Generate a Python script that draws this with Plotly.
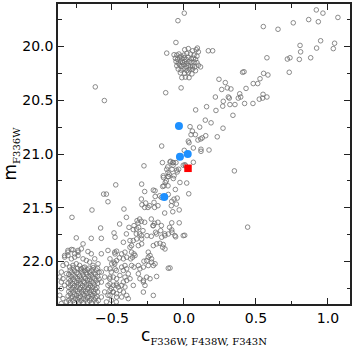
import plotly.graph_objects as go

# ---- data: colour c_{F336W,F438W,F343N} vs magnitude m_F336W ----
field_c = [-0.616, -0.553, -0.127, -0.155, -0.278, -0.15, 0.002, -0.042, -0.056, -0.12, -0.069, 0.169, 0.199, 0.35, 0.442, -0.097, 0.093, 0.035]
field_m = [20.376, 20.503, 20.43, 20.926, 21.11, 21.08, 19.69, 19.76, 19.963, 20.062, 20.077, 20.04, 20.04, 21.157, 21.68, 22.06, 20.015, 20.895]

clump = [(0.005, 20.03), (0.03, 20.02), (0.06, 20.04), (0.085, 20.03), (0.10, 20.05),
         (-0.05, 20.08), (-0.035, 20.07), (-0.02, 20.09), (0.0, 20.08), (0.02, 20.065), (0.045, 20.07), (0.07, 20.08), (0.09, 20.09),
         (-0.06, 20.11), (-0.045, 20.12), (-0.03, 20.10), (-0.015, 20.115), (0.0, 20.105), (0.015, 20.12), (0.03, 20.10), (0.05, 20.115), (0.065, 20.11), (0.08, 20.12),
         (-0.055, 20.14), (-0.04, 20.155), (-0.025, 20.14), (-0.01, 20.15), (0.005, 20.14), (0.02, 20.155), (0.035, 20.14), (0.05, 20.15), (0.07, 20.145), (0.09, 20.15),
         (-0.05, 20.18), (-0.03, 20.17), (-0.015, 20.185), (0.0, 20.17), (0.015, 20.19), (0.03, 20.175), (0.045, 20.19), (0.06, 20.18), (0.075, 20.19), (0.1, 20.175), (0.115, 20.19),
         (-0.04, 20.21), (-0.02, 20.22), (0.0, 20.205), (0.02, 20.225), (0.04, 20.215), (0.06, 20.21), (0.08, 20.225),
         (-0.025, 20.245), (0.005, 20.25), (0.03, 20.24), (0.055, 20.255),
         (-0.015, 20.29), (0.01, 20.285), (0.035, 20.29), (-0.02, 20.385)]

giants = [(0.551, 19.815), (0.653, 19.84), (0.759, 19.78), (0.866, 19.75), (0.919, 19.66), (0.965, 19.69), (0.933, 19.77), (1.069, 19.73),
          (0.949, 19.947), (1.046, 19.97), (1.037, 20.02), (0.921, 20.015), (0.88, 20.105), (0.806, 19.99), (0.81, 20.05), (0.801, 20.12),
          (0.736, 20.105), (0.718, 20.117), (0.731, 20.24), (0.576, 20.105), (0.553, 20.25), (0.583, 20.265), (0.528, 20.30), (0.481, 20.345),
          (0.512, 20.345), (0.407, 20.24), (0.417, 20.235), (0.431, 20.39), (0.243, 20.305), (0.287, 20.336), (0.262, 20.40), (0.301, 20.385),
          (0.326, 20.395), (0.218, 20.47), (0.308, 20.47), (0.315, 20.48), (0.387, 20.44), (0.394, 20.47), (0.377, 20.48), (0.549, 20.445),
          (0.546, 20.48), (0.576, 20.47), (0.523, 20.49), (0.479, 20.53), (0.421, 20.53), (0.354, 20.54), (0.319, 20.54), (0.273, 20.51),
          (0.269, 20.555), (0.157, 20.56), (0.081, 20.59), (0.222, 20.595), (0.34, 20.64), (0.148, 20.685), (0.188, 20.71), (0.271, 20.76),
          (0.042, 20.746), (0.109, 20.75), (0.058, 20.787), (0.049, 20.82), (0.079, 20.82), (0.151, 20.83), (0.127, 20.85), (0.116, 20.86),
          (0.097, 20.87), (0.231, 20.84), (0.03, 20.88), (0.002, 20.966), (0.065, 20.944), (0.118, 20.956), (0.118, 20.975), (0.174, 20.963),
          (0.065, 21.077), (0.007, 21.10), (-0.078, 21.08), (-0.051, 21.15), (-0.047, 21.167)]

subgiants = [(-0.113, 21.12), (-0.12, 21.142), (-0.102, 21.188), (-0.107, 21.21), (-0.143, 21.219), (-0.123, 21.25), (-0.148, 21.302),
             (-0.213, 21.336), (-0.201, 21.342), (-0.294, 21.28), (-0.273, 21.349), (-0.13, 21.401), (-0.2, 21.395), (-0.109, 21.376),
             (-0.093, 21.068), (-0.074, 21.08), (-0.056, 21.08), (-0.083, 21.142), (-0.037, 21.142), (-0.005, 21.105), (0.011, 21.111),
             (-0.074, 21.228), (-0.028, 21.265), (0.019, 21.27), (-0.06, 21.33), (0.033, 21.37), (-0.047, 21.41), (-0.069, 21.42),
             (-0.085, 21.44), (-0.033, 21.52), (-0.078, 21.537), (-0.033, 21.64), (-0.085, 21.64), (-0.085, 21.706), (-0.058, 21.77),
             (0.005, 21.756), (-0.111, 21.172), (-0.144, 21.203), (-0.111, 21.209), (-0.069, 21.203), (-0.13, 21.265), (-0.139, 21.296),
             (-0.111, 21.296), (-0.474, 21.287), (-0.558, 21.373), (-0.539, 21.373), (-0.528, 21.444), (-0.639, 21.521), (-0.778, 21.589),
             (-0.169, 21.389), (-0.157, 21.404), (-0.296, 21.419), (-0.292, 21.472), (-0.266, 21.456), (-0.25, 21.497), (-0.273, 21.497),
             (-0.238, 21.481), (-0.208, 21.45), (-0.204, 21.497), (-0.181, 21.481), (-0.053, 21.466), (-0.088, 21.481), (-0.134, 21.549),
             (-0.417, 21.512), (-0.4, 21.589), (-0.326, 21.62), (-0.308, 21.605), (-0.319, 21.642), (-0.296, 21.626), (-0.273, 21.635),
             (-0.447, 21.651), (-0.579, 21.688), (-0.486, 21.734), (-0.347, 21.666), (-0.352, 21.703), (-0.329, 21.697), (-0.315, 21.682),
             (-0.285, 21.713), (-0.308, 21.743), (-0.296, 21.759), (-0.331, 21.743), (-0.382, 21.682), (-0.4, 21.743), (-0.227, 21.605),
             (-0.204, 21.645), (-0.215, 21.666), (-0.181, 21.635), (-0.157, 21.666), (-0.162, 21.713), (-0.197, 21.728), (-0.134, 21.743),
             (-0.1, 21.682), (-0.083, 21.728), (-0.257, 21.759), (-0.227, 21.765), (-0.644, 21.784), (-0.574, 21.784), (-0.748, 21.78),
             (-0.097, 21.074), (-0.076, 21.105), (-0.479, 21.774), (-0.294, 21.79), (-0.329, 21.79), (-0.352, 21.805), (-0.375, 21.805),
             (-0.155, 21.774), (-0.19, 21.744), (-0.132, 21.759), (-0.109, 21.744), (-0.063, 21.759), (-0.005, 21.759), (-0.213, 21.666)]

lower_sgb = [(-0.421, 21.821), (-0.375, 21.867), (-0.364, 21.852), (-0.317, 21.852), (-0.294, 21.836), (-0.213, 21.852), (-0.19, 21.836),
             (-0.167, 21.83), (-0.144, 21.842), (-0.132, 21.883), (-0.148, 21.867), (-0.468, 21.904), (-0.479, 21.929), (-0.433, 21.929),
             (-0.41, 21.913), (-0.398, 21.96), (-0.421, 21.975), (-0.364, 21.913), (-0.347, 21.929), (-0.34, 21.944), (-0.357, 21.96),
             (-0.37, 21.975), (-0.248, 21.913), (-0.236, 21.944), (-0.248, 21.96), (-0.225, 21.975), (-0.259, 21.991), (-0.278, 21.997),
             (-0.514, 21.975), (-0.502, 22.021), (-0.486, 22.006), (-0.468, 21.991), (-0.449, 21.966), (-0.514, 22.068), (-0.479, 22.068),
             (-0.433, 22.052), (-0.41, 22.037), (-0.398, 22.068), (-0.421, 22.083), (-0.364, 22.037), (-0.347, 22.052), (-0.317, 22.037),
             (-0.306, 22.068), (-0.282, 22.052), (-0.225, 22.006), (-0.213, 22.037), (-0.201, 22.021), (-0.248, 22.037), (-0.109, 22.062),
             (-0.514, 22.145), (-0.491, 22.145), (-0.468, 22.16), (-0.445, 22.129), (-0.41, 22.145), (-0.387, 22.114), (-0.375, 22.16),
             (-0.398, 22.176), (-0.317, 22.114), (-0.306, 22.16), (-0.282, 22.176), (-0.259, 22.145), (-0.236, 22.16), (-0.19, 22.139),
             (-0.514, 22.207), (-0.491, 22.222), (-0.468, 22.207), (-0.456, 22.237), (-0.433, 22.222), (-0.421, 22.191), (-0.352, 22.222),
             (-0.282, 22.191), (-0.271, 22.222), (-0.514, 22.268), (-0.491, 22.284), (-0.468, 22.299), (-0.445, 22.268), (-0.421, 22.284),
             (-0.398, 22.315), (-0.387, 22.345), (-0.433, 22.33), (-0.468, 22.33), (-0.41, 22.237), (-0.514, 22.315), (-0.282, 22.284),
             (-0.213, 22.315), (-0.701, 21.836), (-0.782, 21.888), (-0.806, 21.913), (-0.829, 21.944), (-0.759, 21.928), (-0.736, 21.913),
             (-0.574, 21.928)]

turnoff_edge = [(-0.806, 21.897), (-0.771, 21.891), (-0.736, 21.897), (-0.713, 21.882), (-0.667, 21.907), (-0.644, 21.928), (-0.528, 21.897),
                (-0.481, 21.913), (-0.829, 21.959), (-0.806, 21.944), (-0.782, 21.975), (-0.759, 21.959), (-0.736, 21.944), (-0.701, 21.975),
                (-0.678, 21.99), (-0.655, 22.005), (-0.62, 21.975), (-0.597, 22.021), (-0.632, 22.036), (-0.84, 22.036), (-0.817, 22.021),
                (-0.794, 22.052), (-0.771, 22.036), (-0.748, 22.021), (-0.725, 22.036), (-0.713, 22.067), (-0.69, 22.052), (-0.481, 22.021),
                (-0.505, 22.098), (-0.47, 22.083), (-0.852, 22.098), (-0.863, 22.144), (-0.84, 22.16), (-0.852, 22.191), (-0.817, 22.113),
                (-0.829, 22.221), (-0.852, 22.252), (-0.863, 22.314), (-0.84, 22.345), (-0.817, 22.376), (-0.852, 22.391), (-0.574, 22.098),
                (-0.539, 22.067), (-0.551, 22.144), (-0.516, 22.16), (-0.574, 22.191), (-0.528, 22.221), (-0.505, 22.252), (-0.493, 22.283),
                (-0.47, 22.221), (-0.551, 22.283), (-0.528, 22.314), (-0.574, 22.33), (-0.505, 22.36), (-0.539, 22.376), (-0.47, 22.376)]

turnoff_core = [(-0.77, 22.06), (-0.74, 22.065), (-0.70, 22.058), (-0.66, 22.062), (-0.63, 22.057), (-0.60, 22.064),
                (-0.79, 22.08), (-0.76, 22.085), (-0.72, 22.078), (-0.69, 22.083), (-0.67, 22.077), (-0.64, 22.084), (-0.61, 22.079),
                (-0.78, 22.10), (-0.745, 22.104), (-0.71, 22.097), (-0.68, 22.103), (-0.655, 22.098), (-0.625, 22.105), (-0.59, 22.099),
                (-0.80, 22.12), (-0.77, 22.124), (-0.735, 22.117), (-0.70, 22.123), (-0.675, 22.118), (-0.645, 22.125), (-0.615, 22.119),
                (-0.785, 22.14), (-0.755, 22.143), (-0.725, 22.137), (-0.695, 22.144), (-0.66, 22.138), (-0.635, 22.145), (-0.60, 22.139),
                (-0.80, 22.16), (-0.77, 22.164), (-0.74, 22.157), (-0.715, 22.163), (-0.685, 22.158), (-0.655, 22.165), (-0.62, 22.159), (-0.59, 22.163),
                (-0.79, 22.18), (-0.76, 22.184), (-0.73, 22.177), (-0.70, 22.183), (-0.67, 22.178), (-0.645, 22.185), (-0.61, 22.179),
                (-0.805, 22.20), (-0.775, 22.204), (-0.745, 22.197), (-0.72, 22.203), (-0.69, 22.198), (-0.66, 22.205), (-0.63, 22.199), (-0.60, 22.203),
                (-0.79, 22.22), (-0.76, 22.224), (-0.735, 22.217), (-0.705, 22.223), (-0.675, 22.218), (-0.65, 22.225), (-0.62, 22.219),
                (-0.80, 22.24), (-0.77, 22.244), (-0.745, 22.237), (-0.715, 22.243), (-0.69, 22.238), (-0.66, 22.245), (-0.635, 22.239), (-0.605, 22.243),
                (-0.785, 22.26), (-0.755, 22.264), (-0.725, 22.257), (-0.70, 22.263), (-0.67, 22.258), (-0.645, 22.265), (-0.615, 22.259),
                (-0.80, 22.28), (-0.77, 22.284), (-0.74, 22.277), (-0.71, 22.283), (-0.685, 22.278), (-0.655, 22.285), (-0.63, 22.279), (-0.60, 22.283),
                (-0.79, 22.30), (-0.76, 22.304), (-0.73, 22.297), (-0.70, 22.303), (-0.675, 22.298), (-0.645, 22.305), (-0.62, 22.299),
                (-0.805, 22.32), (-0.775, 22.324), (-0.745, 22.317), (-0.72, 22.323), (-0.69, 22.318), (-0.66, 22.325), (-0.635, 22.319), (-0.605, 22.323),
                (-0.785, 22.34), (-0.755, 22.344), (-0.73, 22.337), (-0.70, 22.343), (-0.67, 22.338), (-0.645, 22.345), (-0.615, 22.339),
                (-0.80, 22.36), (-0.77, 22.364), (-0.74, 22.357), (-0.715, 22.363), (-0.685, 22.358), (-0.655, 22.365), (-0.625, 22.359), (-0.595, 22.363),
                (-0.79, 22.38), (-0.76, 22.384), (-0.73, 22.377), (-0.70, 22.383), (-0.67, 22.378), (-0.64, 22.385), (-0.61, 22.379)]

blue_c = [-0.035, -0.028, 0.026, -0.137]
blue_m = [20.74, 21.025, 21.0, 21.40]
red_c = [0.028]
red_m = [21.133]

x_major = [-0.5, 0.0, 0.5, 1.0]
x_labels = ["\u22120.5", "0.0", "0.5", "1.0"]
x_minor = [-0.75, -0.25, 0.25, 0.75]
y_major = [20.0, 20.5, 21.0, 21.5, 22.0]
y_labels = ["20.0", "20.5", "21.0", "21.5", "22.0"]
y_minor = [19.75, 20.25, 20.75, 21.25, 21.75, 22.25]

grey_c = list(field_c)
grey_m = list(field_m)
for group in (clump, giants, subgiants, lower_sgb, turnoff_edge, turnoff_core):
    for c, m in group:
        grey_c.append(c)
        grey_m.append(m)

fig = go.Figure()
fig.add_trace(go.Scatter(x=grey_c, y=grey_m, mode="markers",
                         marker=dict(symbol="circle-open", size=4.6, color="#6f6f6f", line=dict(width=0.8, color="#6f6f6f"))))
fig.add_trace(go.Scatter(x=blue_c, y=blue_m, mode="markers",
                         marker=dict(symbol="circle", size=8, color="#1e90ff", line=dict(width=0))))
fig.add_trace(go.Scatter(x=red_c, y=red_m, mode="markers",
                         marker=dict(symbol="square", size=7.5, color="#ff0000", line=dict(width=0))))

axis_common = dict(showline=True, linewidth=1.8, linecolor="#222", mirror="ticks",
                   ticks="inside", ticklen=6, tickwidth=1, tickcolor="#222",
                   showgrid=False, zeroline=False, automargin=False,
                   tickfont=dict(family="DejaVu Sans", size=14, color="black"))

sub_style = "font-family:'DejaVu Serif';font-size:10px"
fig.update_xaxes(range=[-0.875, 1.153], tickmode="array", tickvals=x_major, ticktext=x_labels,
                 minor=dict(tickvals=x_minor, ticks="inside", ticklen=3.5, tickwidth=1, tickcolor="#222"),
                 title=dict(text=f"c<sub><span style=\"{sub_style}\">F336W, F438W, F343N</span></sub>",
                            font=dict(family="DejaVu Sans", size=17, color="black"), standoff=6),
                 **axis_common)
fig.update_yaxes(range=[22.395, 19.605], tickmode="array", tickvals=y_major, ticktext=y_labels,
                 minor=dict(tickvals=y_minor, ticks="inside", ticklen=3.5, tickwidth=1, tickcolor="#222"),
                 title=dict(text=f"m<sub><span style=\"{sub_style}\">F336W</span></sub>",
                            font=dict(family="DejaVu Sans", size=17, color="black"), standoff=6),
                 **axis_common)

fig.update_layout(width=355, height=347, margin=dict(l=58, r=5, t=4, b=43, autoexpand=False),
                  plot_bgcolor="white", paper_bgcolor="white", showlegend=False)

fig.write_html("out.html", config={"displayModeBar": False, "staticPlot": True},
               post_script="document.body.style.margin='0';document.body.style.padding='0';document.body.style.overflow='hidden';")
